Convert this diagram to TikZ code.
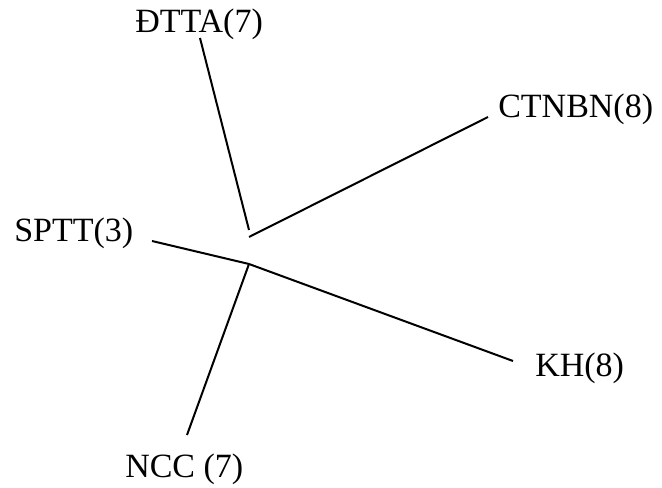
\documentclass[tikz,border=0pt]{standalone}
\usepackage{fontspec}
\setmainfont{Liberation Serif}

\begin{document}
\begin{tikzpicture}[x=0.75pt, y=-0.75pt,
  factor/.style={anchor=base west, inner sep=0pt, font=\fontsize{25.5}{30}\selectfont},
  link/.style={line width=1.5pt}]

\useasboundingbox (0,0) rectangle (662,488);

% ── Factor labels ──
\node[factor] (dtta)  at (135, 33)  {ĐTTA(7)};
\node[factor] (ctnbn) at (498, 118) {CTNBN(8)};
\node[factor] (sptt)  at (14, 242)  {SPTT(3)};
\node[factor] (kh)    at (535, 377) {KH(8)};
\node[factor] (ncc)   at (125, 478) {NCC (7)};

% ── Hubs and line ends ──
\coordinate (upper) at (249, 230);
\coordinate (lower) at (249, 264);
\coordinate (dtta-end)  at (200, 38);
\coordinate (ctnbn-end) at (488, 117);
\coordinate (sptt-end)  at (152, 241);
\coordinate (kh-end)    at (513, 361);
\coordinate (ncc-end)   at (187, 435);

% Upper pair
\draw[link] (dtta-end) -- (upper);
\draw[link] ([yshift=-5.25pt]upper) -- (ctnbn-end);

% Lower star
\draw[link] (sptt-end) -- (lower);
\draw[link] (lower) -- (kh-end);
\draw[link] (lower) -- (ncc-end);

\end{tikzpicture}
\end{document}
